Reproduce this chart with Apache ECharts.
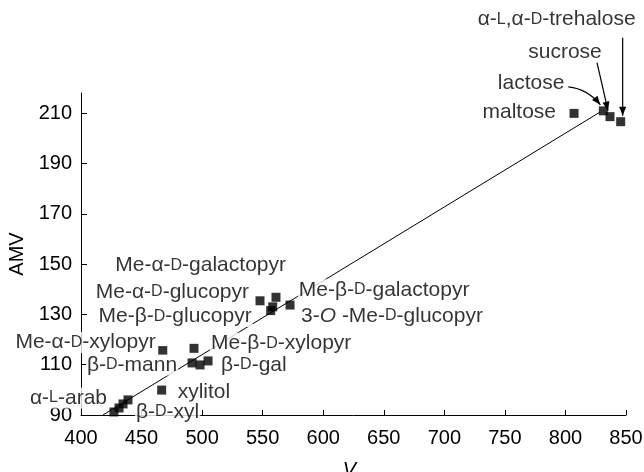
<!DOCTYPE html>
<html><head><meta charset="utf-8">
<script src="https://cdn.jsdelivr.net/npm/echarts@6/dist/echarts.min.js"></script>
<style>html,body{margin:0;padding:0;background:#fff}#c{width:644px;height:472px}</style>
</head><body><div id="c"></div>
<script>
// ---- data ----
const names = ['maltose','lactose','sucrose','trehalose',
  'Me-a-D-glucopyr','Me-a-D-galactopyr','Me-b-D-galactopyr','Me-b-D-glucopyr','3-O-Me-D-glucopyr',
  'Me-a-D-xylopyr','Me-b-D-xylopyr','b-D-mann','p12','b-D-gal','xylitol','b-D-xyl','p16','a-L-arab','p18'];
const vaValues  = [807.1, 831.3, 836.8, 845.6, 547.8, 561.0, 558.3, 556.6, 572.6, 467.5, 493.3, 491.7, 498.3, 504.9, 466.6, 438.8, 434.7, 431.4, 427.2];
const amvValues = [209.9, 210.9, 208.6, 206.6, 135.4, 136.8, 133.0, 131.5, 133.7, 115.6, 116.5, 110.7, 109.9, 111.5,  99.9,  96.0,  94.4,  92.8,  91.2];
const labelTexts = ['maltose','lactose','sucrose','α-{sc|L},α-{sc|D}-trehalose',
  'Me-α-{sc|D}-glucopyr','Me-α-{sc|D}-galactopyr','Me-β-{sc|D}-galactopyr','Me-β-{sc|D}-glucopyr','3-{it|O} -Me-{sc|D}-glucopyr',
  'Me-α-{sc|D}-xylopyr','Me-β-{sc|D}-xylopyr','β-{sc|D}-mann','','β-{sc|D}-gal','xylitol','β-{sc|D}-xyl','','α-{sc|L}-arab',''];
const yTicks = [90, 110, 130, 150, 170, 190, 210];
const fitVa  = [418.2, 828.5];
const fitAmv = [90, 210.4];

// ---- label layout (align, dx, dy) ----
const labelLayout = {
  'maltose':['right',-17,-1], 'lactose':['right',-38,-28], 'sucrose':['center',-45,-64], 'trehalose':['center',-64,-102],
  'Me-a-D-glucopyr':['right',-10,-9], 'Me-a-D-galactopyr':['right',11,-32], 'Me-b-D-galactopyr':['left',25,-17],
  'Me-b-D-glucopyr':['right',-18,6], '3-O-Me-D-glucopyr':['left',10,11],
  'Me-a-D-xylopyr':['right',-6,-8], 'Me-b-D-xylopyr':['left',16,-5], 'b-D-mann':['right',-14,2],
  'b-D-gal':['left',12,4], 'xylitol':['left',15,2], 'b-D-xyl':['left',7,12], 'a-L-arab':['right',-11,-10]
};
// arrows: [pointName, startDx, startDy, endDx, endDy, curve]
const arrows = [
  ['lactose', -35, -24, -3, -6, true],
  ['sucrose', -13, -54, -2, -6, false],
  ['trehalose', 2, -84, 2, -6, false]
];

const FONT = 'Liberation Sans, Arial, Helvetica, sans-serif';
const rich = {
  sc: {fontSize: 16, fontFamily: FONT, color: '#000'},
  it: {fontSize: 21, fontStyle: 'italic', fontFamily: FONT, color: '#000'}
};

const points = names.map((n, i) => {
  const item = {name: n, value: [vaValues[i], amvValues[i]]};
  const lay = labelLayout[n];
  if (lay && labelTexts[i]) {
    item.label = {show: true, position: 'inside', align: lay[0], verticalAlign: 'middle',
      offset: [lay[1], lay[2]], formatter: labelTexts[i]};
  } else {
    item.label = {show: false};
  }
  return item;
});

const chart = echarts.init(document.getElementById('c'), null, {renderer: 'canvas'});
chart.setOption({
  backgroundColor: '#fff',
  animation: false,
  grid: {left: 81, right: 18, top: 93, bottom: 57, containLabel: false, outerBoundsMode: 'none'},
  xAxis: {
    type: 'value', min: 400, max: 850, interval: 50,
    axisLine: {lineStyle: {color: '#000', width: 1}},
    axisTick: {inside: true, length: 5, lineStyle: {color: '#000'}},
    axisLabel: {fontSize: 20, color: '#000', fontFamily: FONT, margin: 13},
    splitLine: {show: false},
    name: '{v|V}{a|a}', nameLocation: 'middle', nameGap: 45,
    nameTextStyle: {verticalAlign: 'top', rich: {
      v: {fontSize: 20, fontStyle: 'italic', fontFamily: FONT, color: '#000', lineHeight: 20},
      a: {fontSize: 15, fontStyle: 'italic', fontFamily: FONT, color: '#000', lineHeight: 20, padding: [12, 0, 0, 0]}
    }}
  },
  yAxis: {
    type: 'value', min: 90, max: 218,
    axisLine: {show: true, lineStyle: {color: '#000', width: 1}},
    axisTick: {show: true, inside: true, length: 6, customValues: yTicks, lineStyle: {color: '#000'}},
    axisLabel: {fontSize: 20, color: '#000', fontFamily: FONT, margin: 9, customValues: yTicks},
    splitLine: {show: false},
    name: 'AMV', nameLocation: 'middle', nameGap: 52, nameRotate: 90,
    nameTextStyle: {fontSize: 20, color: '#000', fontFamily: FONT}
  },
  series: [
    {
      type: 'line', z: 1, silent: true, symbol: 'none',
      data: fitVa.map((v, i) => [v, fitAmv[i]]),
      lineStyle: {color: '#000', width: 1}
    },
    {
      type: 'scatter', z: 3, silent: true, symbol: 'rect', symbolSize: 9,
      itemStyle: {color: '#000'},
      label: {fontSize: 21, color: '#000', fontFamily: FONT, backgroundColor: '#fff', padding: [0, 1], rich: rich},
      data: points
    }
  ]
});

// arrows for top-right labels
const gfx = [];
arrows.forEach(a => {
  const idx = names.indexOf(a[0]);
  const p = chart.convertToPixel({seriesIndex: 1}, [vaValues[idx], amvValues[idx]]);
  const x1 = p[0] + a[1], y1 = p[1] + a[2], x2 = p[0] + a[3], y2 = p[1] + a[4];
  let cx = (x1 + x2) / 2, cy = (y1 + y2) / 2;
  if (a[5]) { cx = x1 + (x2 - x1) * 0.6; cy = y1 + 2; }
  gfx.push({type: 'bezierCurve', silent: true, z: 10,
    shape: {x1: x1, y1: y1, x2: x2, y2: y2, cpx1: cx, cpy1: cy},
    style: {stroke: '#000', lineWidth: 1.2, fill: null}});
  const ang = Math.atan2(y2 - cy, x2 - cx);
  const L = 9, W = 3.5;
  const bx = x2 - L * Math.cos(ang), by = y2 - L * Math.sin(ang);
  gfx.push({type: 'polygon', silent: true, z: 11,
    shape: {points: [[x2, y2], [bx - W * Math.sin(ang), by + W * Math.cos(ang)], [bx + W * Math.sin(ang), by - W * Math.cos(ang)]]},
    style: {fill: '#000'}});
});
chart.setOption({graphic: gfx});
</script>
</body></html>
